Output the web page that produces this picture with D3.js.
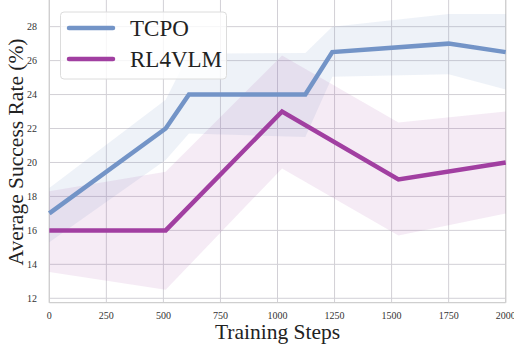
<!DOCTYPE html>
<html><head><meta charset="utf-8">
<script src="https://cdn.jsdelivr.net/npm/d3@7"></script>
<style>html,body{margin:0;padding:0;background:#fff;}svg{display:block;}</style>
</head><body>
<script>
const xTicks = [0, 250, 500, 750, 1000, 1250, 1500, 1750, 2000];
const yTicks = [12, 14, 16, 18, 20, 22, 24, 26, 28];

const tcpoSteps = [0, 510, 612, 1122, 1240, 1750, 2000];
const tcpoMean  = [17, 22, 24, 24, 26.5, 27, 26.5];
const tcpoLow   = [15.3, 20.15, 21.7, 21.5, 25.05, 25.2, 24.3];
const tcpoHigh  = [18.5, 23.7, 26.4, 26.45, 28, 28.75, 28.75];

const rlSteps = [0, 510, 1020, 1530, 2000];
const rlMean  = [16, 16, 23, 19, 20];
const rlLow   = [13.55, 12.5, 19.65, 15.7, 17.0];
const rlHigh  = [18.3, 19.45, 26.3, 22.35, 23.0];

const seriesNames = ["TCPO", "RL4VLM"];
const seriesColors = ["#7394c7", "#a13fa1"];

const W = 514, H = 349;
const L = 49.3, R = 505.7, T = 0, B = 302.7;
const svg = d3.select("body").append("svg").attr("width", W).attr("height", H)
  .style("font-family", "'Liberation Serif','Times New Roman',serif");

const x = d3.scaleLinear().domain([0, 2000]).range([L, R]);
const y = d3.scaleLinear().domain([11.74, 29.57]).range([B, T]);

// grid
const g = svg.append("g");
g.selectAll(".vg").data(xTicks).enter().append("line")
  .attr("x1", d => x(d)).attr("x2", d => x(d)).attr("y1", T).attr("y2", B)
  .attr("stroke", "#d2d0d6").attr("stroke-width", 1);
g.selectAll(".hg").data(yTicks).enter().append("line")
  .attr("x1", L).attr("x2", R).attr("y1", d => y(d)).attr("y2", d => y(d))
  .attr("stroke", "#d2d0d6").attr("stroke-width", 1);
// spines
svg.append("line").attr("x1", L).attr("x2", L).attr("y1", T).attr("y2", B).attr("stroke", "#cfcfcf").attr("stroke-width", 1.2);
svg.append("line").attr("x1", R).attr("x2", R).attr("y1", T).attr("y2", B).attr("stroke", "#cfcfcf").attr("stroke-width", 1.2);
svg.append("line").attr("x1", L).attr("x2", R).attr("y1", B).attr("y2", B).attr("stroke", "#cfcfcf").attr("stroke-width", 1.2);

// bands
function band(steps, lo, hi) {
  return d3.area().x((d, i) => x(steps[i])).y0((d, i) => y(lo[i])).y1((d, i) => y(hi[i]))(steps);
}
function ln(steps, m) {
  return d3.line().x((d, i) => x(steps[i])).y((d, i) => y(m[i]))(steps);
}
svg.append("path").attr("d", band(tcpoSteps, tcpoLow, tcpoHigh)).attr("fill", seriesColors[0]).attr("fill-opacity", 0.12);
svg.append("path").attr("d", band(rlSteps, rlLow, rlHigh)).attr("fill", seriesColors[1]).attr("fill-opacity", 0.1);
svg.append("path").attr("d", ln(rlSteps, rlMean)).attr("fill", "none").attr("stroke", seriesColors[1]).attr("stroke-width", 4.5);
svg.append("path").attr("d", ln(tcpoSteps, tcpoMean)).attr("fill", "none").attr("stroke", seriesColors[0]).attr("stroke-width", 4.5);

// tick labels
svg.selectAll(".xt").data(xTicks).enter().append("text")
  .attr("x", d => x(d)).attr("y", 319).attr("text-anchor", "middle")
  .attr("font-size", 10).attr("fill", "#333").text(d => d);
svg.selectAll(".yt").data(yTicks).enter().append("text")
  .attr("x", 37).attr("y", d => y(d) + 3.5).attr("text-anchor", "end")
  .attr("font-size", 10).attr("fill", "#333").text(d => d);

// axis labels
svg.append("text").attr("x", (L + R) / 2).attr("y", 339).attr("text-anchor", "middle")
  .attr("font-size", 21.5).attr("fill", "#222").text("Training Steps");
svg.append("text").attr("transform", "translate(22.5,152) rotate(-90)")
  .attr("text-anchor", "middle").attr("font-size", 21.5).attr("fill", "#222")
  .text("Average Success Rate (%)");

// legend
const lg = svg.append("g");
lg.append("rect").attr("x", 60.5).attr("y", 12).attr("width", 166).attr("height", 67).attr("rx", 3.5)
  .attr("fill", "#fff").attr("fill-opacity", 0.8).attr("stroke", "#dcdcdc").attr("stroke-width", 1);
seriesNames.forEach((n, i) => {
  const yy = 28 + i * 31;
  lg.append("line").attr("x1", 69).attr("x2", 113).attr("y1", yy).attr("y2", yy)
    .attr("stroke", seriesColors[i]).attr("stroke-width", 4.5).attr("stroke-linecap", "round");
  lg.append("text").attr("x", 130).attr("y", yy + 8).attr("font-size", 23).attr("fill", "#222").text(n);
});
</script>
</body></html>
